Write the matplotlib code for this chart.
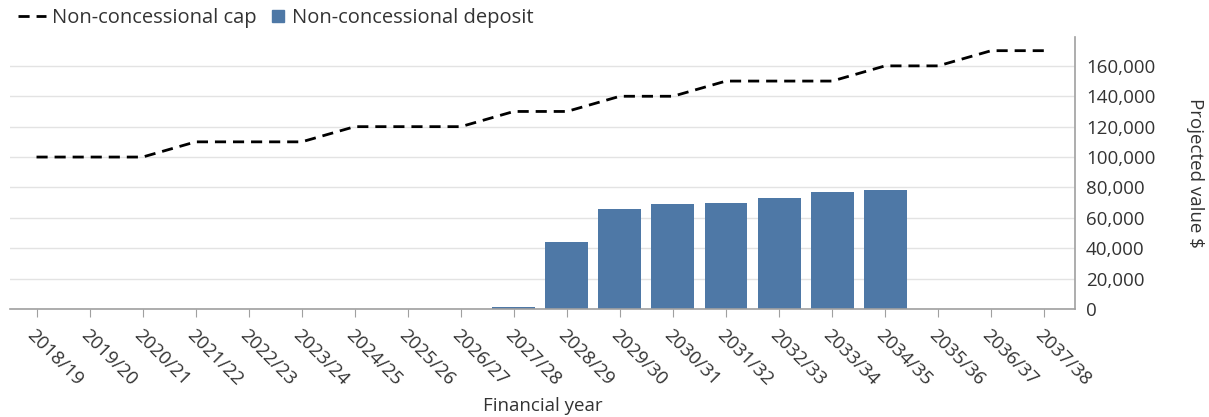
import matplotlib

matplotlib.use("Agg")
import matplotlib.pyplot as plt
from matplotlib.lines import Line2D
from matplotlib.ticker import FuncFormatter

plt.rcParams["font.family"] = ["Open Sans", "DejaVu Sans"]

YEARS = [
    "2018/19", "2019/20", "2020/21", "2021/22", "2022/23",
    "2023/24", "2024/25", "2025/26", "2026/27", "2027/28",
    "2028/29", "2029/30", "2030/31", "2031/32", "2032/33",
    "2033/34", "2034/35", "2035/36", "2036/37", "2037/38",
]
CAP = [
    100000, 100000, 100000, 110000, 110000,
    110000, 120000, 120000, 120000, 130000,
    130000, 140000, 140000, 150000, 150000,
    150000, 160000, 160000, 170000, 170000,
]
DEPOSIT = [
    0, 0, 0, 0, 0,
    0, 0, 0, 0, 1500,
    44000, 66000, 69000, 69500, 73000,
    77000, 78000, 0, 0, 0,
]

BAR_COLOR = "#4e78a6"
AXIS_GREY = "#a0a0a0"
TEXT = "#333333"

fig = plt.figure(figsize=(12.09, 4.17), dpi=100)
ax = fig.add_axes([10 / 1209, 1 - 309 / 417, (1075 - 10) / 1209, (309 - 37) / 417])

x = list(range(len(YEARS)))
ax.bar(x, DEPOSIT, width=0.81, color=BAR_COLOR, zorder=2)
ax.plot(x, CAP, color="black", linestyle=(0, (4, 2.5)), linewidth=2, zorder=3)

ax.set_xlim(-0.5, len(YEARS) - 0.42)
ax.set_ylim(0, 179000)
ax.set_yticks(range(0, 160001, 20000))
ax.yaxis.set_major_formatter(FuncFormatter(lambda v, _: f"{v:,.0f}"))
ax.yaxis.tick_right()
ax.yaxis.set_label_position("right")
ax.tick_params(axis="y", length=0, pad=8, labelsize=13.5, labelcolor=TEXT)
ax.grid(axis="y", color="#e3e3e3", linewidth=1, zorder=0)
ax.set_axisbelow(True)

ax.set_xticks(x)
ax.set_xticklabels(YEARS, rotation=-45, ha="left", va="top", rotation_mode="anchor")
ax.tick_params(axis="x", length=6, color=AXIS_GREY, labelsize=13.5, labelcolor=TEXT, pad=6)

for side in ("top", "left"):
    ax.spines[side].set_visible(False)
for side in ("bottom", "right"):
    ax.spines[side].set_color(AXIS_GREY)
    ax.spines[side].set_linewidth(1.2)

ax.set_xlabel("Financial year", fontsize=13.5, color=TEXT, labelpad=6)
ax.set_ylabel("Projected value $", fontsize=13.5, color=TEXT, rotation=-90, labelpad=35)

# legend: dashed line for the cap, small square for the deposit bars
cap_handle = Line2D([0], [0], color="black", linestyle=(0, (4, 2.5)), linewidth=2)
deposit_handle = Line2D([0], [0], linestyle="none", marker="s", markersize=8,
                        markerfacecolor=BAR_COLOR, markeredgecolor=BAR_COLOR)
leg_cap = fig.legend(
    [cap_handle], ["Non-concessional cap"],
    loc="upper left", bbox_to_anchor=(0.0, 1.025),
    frameon=False, fontsize=14.5, labelcolor=TEXT,
    handlelength=1.4, handletextpad=0.3,
)
fig.legend(
    [deposit_handle], ["Non-concessional deposit"],
    loc="upper left", bbox_to_anchor=(252 / 1209, 1.025),
    frameon=False, fontsize=14.5, labelcolor=TEXT,
    handlelength=0.8, handletextpad=0.3,
)

fig.savefig("out.png", dpi=100)
